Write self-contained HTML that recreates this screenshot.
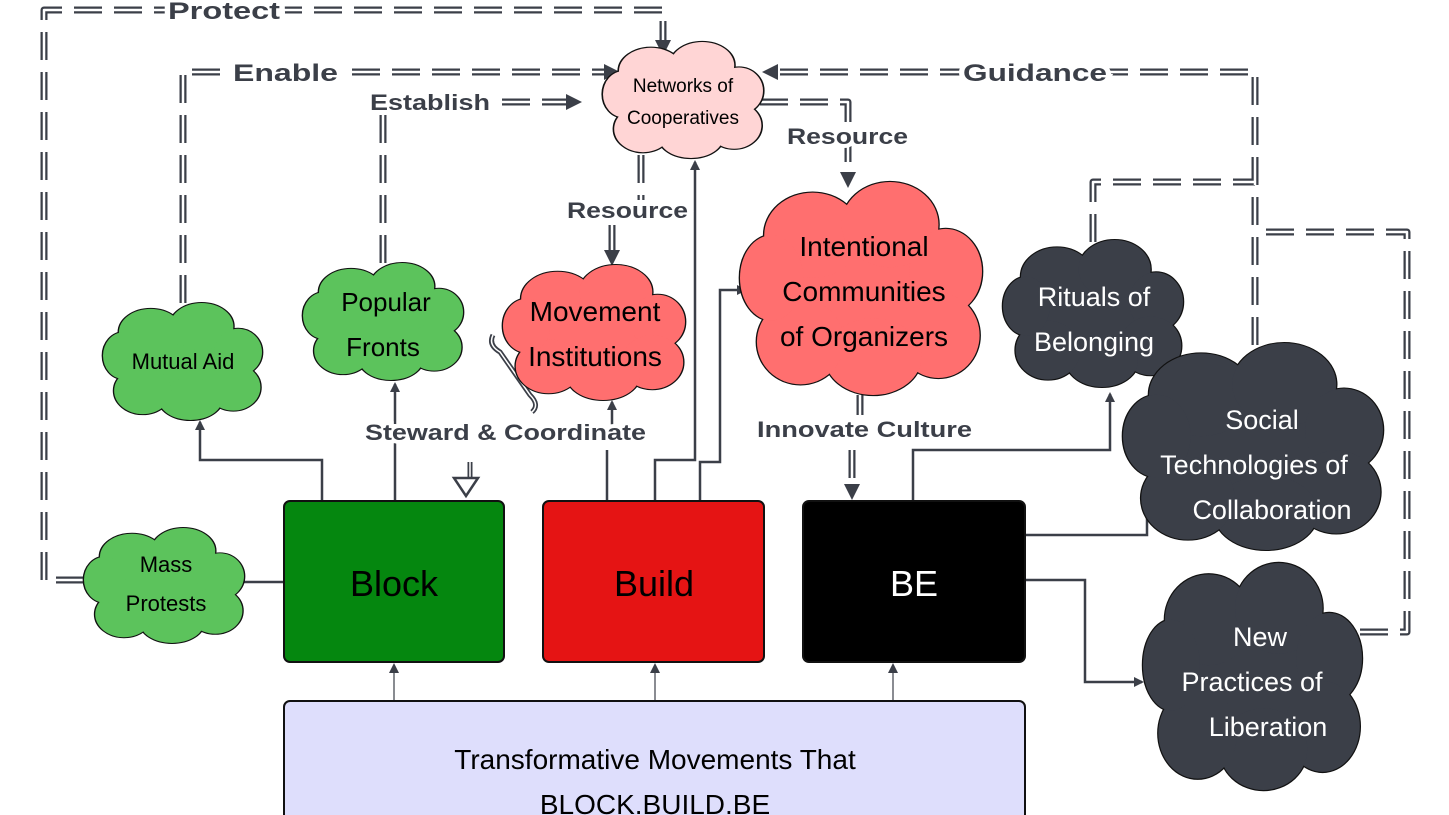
<!DOCTYPE html>
<html><head><meta charset="utf-8"><style>
html,body{margin:0;padding:0;background:#fff;width:1449px;height:815px;overflow:hidden}
svg{display:block;font-family:"Liberation Sans",sans-serif}
.lbl{font-weight:bold;font-size:24px;fill:#3b3f48;paint-order:stroke;stroke:#fff;stroke-width:8px}
</style></head><body>
<svg width="1449" height="815" viewBox="0 0 1449 815" xmlns="http://www.w3.org/2000/svg">
<defs>
<g id="cs">
<ellipse cx=".5" cy=".5" rx=".38" ry=".36"/><ellipse cx=".3" cy=".25" rx=".2" ry=".2"/><ellipse cx=".62" cy=".2" rx=".2" ry=".2"/><ellipse cx=".85" cy=".42" rx=".15" ry=".2"/><ellipse cx=".82" cy=".72" rx=".17" ry=".2"/><ellipse cx=".55" cy=".82" rx=".2" ry=".18"/><ellipse cx=".25" cy=".75" rx=".18" ry=".2"/><ellipse cx=".13" cy=".45" rx=".13" ry=".2"/>
</g>
<marker id="a" markerWidth="10" markerHeight="10" refX="8" refY="5" orient="auto" markerUnits="userSpaceOnUse"><path d="M0,0 L10,5 L0,10 z" fill="#3b3f48"/></marker>
</defs>

<g fill="none" stroke-linejoin="round">
<g stroke="#3b3f48" stroke-width="7" stroke-dasharray="28 12">
<path d="M84,580 H44 V10 H663 V40"/>
<path d="M183,303 V72 H612"/>
<path d="M383,263 V102 H575"/>
<path d="M641,155 V200 M612,225 V258"/>
<path d="M760,102 H848 V180"/>
<path d="M1255,345 V72 H768"/>
<path d="M1093,242 V182 H1255"/>
<path d="M1360,632 H1407 V232 H1255"/>
<path d="M860,395 V415 M852,450 V492"/>
</g>
<g stroke="#fff" stroke-width="2.5" stroke-dasharray="28 12">
<path d="M84,580 H44 V10 H663 V40"/>
<path d="M183,303 V72 H612"/>
<path d="M383,263 V102 H575"/>
<path d="M641,155 V200 M612,225 V258"/>
<path d="M760,102 H848 V180"/>
<path d="M1255,345 V72 H768"/>
<path d="M1093,242 V182 H1255"/>
<path d="M1360,632 H1407 V232 H1255"/>
<path d="M860,395 V415 M852,450 V492"/>
</g>
</g>
<g fill="#3b3f48">
<path d="M655,40 L671,40 L663,56z"/>
<path d="M604,64 L620,72 L604,80z"/>
<path d="M566,94 L582,102 L566,110z"/>
<path d="M604,250 L620,250 L612,266z"/>
<path d="M840,172 L856,172 L848,188z"/>
<path d="M778,64 L762,72 L778,80z"/>
<path d="M844,484 L860,484 L852,500z"/>
</g>

<g fill="none" stroke="#3b3f48" stroke-width="2.5" marker-end="url(#a)">
<path d="M322,501 V460 H200 V422"/>
<path d="M395,501 V384"/>
<path d="M607,501 V450 M612,440 V402"/>
<path d="M655,501 V460 H695 V162"/>
<path d="M700,501 V462 H720 V290 H745"/>
<path d="M913,501 V450 H1110 V394"/>
<path d="M1025,535 H1147 V496"/>
<path d="M1025,580 H1085 V682 H1142"/>
</g>
<path d="M244,582 H284" stroke="#3b3f48" stroke-width="2.5"/>
<g stroke="#3b3f48" stroke-width="1.2" fill="none" marker-end="url(#a)">
<path d="M394,701 V665"/><path d="M655,701 V665"/><path d="M893,701 V665"/>
</g>
<path d="M493,335 Q488,345 500,352 L530,395 Q540,405 532,412" fill="none" stroke="#3b3f48" stroke-width="5"/>
<path d="M493,335 Q488,345 500,352 L530,395 Q540,405 532,412" fill="none" stroke="#fff" stroke-width="1.5"/>
<path d="M470,462 V478" stroke="#3b3f48" stroke-width="5"/><path d="M470,462 V478" stroke="#fff" stroke-width="1.5"/>
<path d="M454,478 L478,478 L466,496z" fill="#fff" stroke="#3b3f48" stroke-width="2.5"/>

<g>
<g transform="translate(603,42) scale(160,116)"><use href="#cs" fill="#ffd5d5" stroke="#111" stroke-width=".02"/><use href="#cs" fill="#ffd5d5"/></g>
<g transform="translate(103,303) scale(159,117)"><use href="#cs" fill="#5cc35c" stroke="#111" stroke-width=".017"/><use href="#cs" fill="#5cc35c"/></g>
<g transform="translate(303,263) scale(160,117)"><use href="#cs" fill="#5cc35c" stroke="#111" stroke-width=".017"/><use href="#cs" fill="#5cc35c"/></g>
<g transform="translate(84,528) scale(160,115)"><use href="#cs" fill="#5cc35c" stroke="#111" stroke-width=".017"/><use href="#cs" fill="#5cc35c"/></g>
<g transform="translate(503,265) scale(182,135)"><use href="#cs" fill="#ff6f6f" stroke="#111" stroke-width=".015"/><use href="#cs" fill="#ff6f6f"/></g>
<g transform="translate(740,182) scale(242,213)"><use href="#cs" fill="#ff6f6f" stroke="#111" stroke-width=".011"/><use href="#cs" fill="#ff6f6f"/></g>
<g transform="translate(1003,240) scale(180,147)"><use href="#cs" fill="#3b3f48" stroke="#111" stroke-width=".014"/><use href="#cs" fill="#3b3f48"/></g>
<g transform="translate(1123,343) scale(260,207)"><use href="#cs" fill="#3b3f48" stroke="#111" stroke-width=".01"/><use href="#cs" fill="#3b3f48"/></g>
<g transform="translate(1143,563) scale(219,227)"><use href="#cs" fill="#3b3f48" stroke="#111" stroke-width=".011"/><use href="#cs" fill="#3b3f48"/></g>
</g>

<rect x="284" y="501" width="220" height="161" rx="6" fill="#05870f" stroke="#111" stroke-width="2"/>
<rect x="543" y="501" width="221" height="161" rx="6" fill="#e51414" stroke="#111" stroke-width="2"/>
<rect x="803" y="501" width="222" height="161" rx="6" fill="#000" stroke="#111" stroke-width="2"/>
<rect x="284" y="701" width="741" height="130" rx="6" fill="#dedefc" stroke="#111" stroke-width="2"/>

<g text-anchor="middle" font-size="36">
<text x="394" y="596">Block</text>
<text x="654" y="596">Build</text>
<text x="914" y="596" fill="#fff">BE</text>
</g>
<g text-anchor="middle" font-size="28">
<text x="655" y="769">Transformative Movements That</text>
<text x="655" y="814">BLOCK.BUILD.BE</text>
</g>

<g text-anchor="middle">
<text font-size="19" x="683" y="92">Networks of</text><text font-size="19" x="683" y="124">Cooperatives</text>
<text font-size="22" x="183" y="369">Mutual Aid</text>
<text font-size="26" x="386" y="311">Popular</text><text font-size="26" x="383" y="356">Fronts</text>
<text font-size="22" x="166" y="572">Mass</text><text font-size="22" x="166" y="611">Protests</text>
<text font-size="28" x="595" y="321">Movement</text><text font-size="28" x="595" y="366">Institutions</text>
<text font-size="28" x="864" y="256">Intentional</text><text font-size="28" x="864" y="301">Communities</text><text font-size="28" x="864" y="346">of Organizers</text>
<g fill="#fff">
<text font-size="27" x="1094" y="306">Rituals of</text><text font-size="27" x="1094" y="351">Belonging</text>
<text font-size="27" x="1262" y="429">Social</text><text font-size="27" x="1254" y="474">Technologies of</text><text font-size="27" x="1272" y="519">Collaboration</text>
<text font-size="27" x="1260" y="646">New</text><text font-size="27" x="1252" y="691">Practices of</text><text font-size="27" x="1268" y="736">Liberation</text>
</g>
</g>

<text class="lbl" x="168" y="19" textLength="112" lengthAdjust="spacingAndGlyphs">Protect</text>
<text class="lbl" x="233" y="81" textLength="105" lengthAdjust="spacingAndGlyphs">Enable</text>
<text class="lbl" x="370" y="110" style="font-size:22px" textLength="120" lengthAdjust="spacingAndGlyphs">Establish</text>
<text class="lbl" x="567" y="218" style="font-size:22px" textLength="121" lengthAdjust="spacingAndGlyphs">Resource</text>
<text class="lbl" x="787" y="144" style="font-size:22px" textLength="121" lengthAdjust="spacingAndGlyphs">Resource</text>
<text class="lbl" x="963" y="81" textLength="144" lengthAdjust="spacingAndGlyphs">Guidance</text>
<text class="lbl" x="365" y="440" style="font-size:22px" textLength="281" lengthAdjust="spacingAndGlyphs">Steward &amp; Coordinate</text>
<text class="lbl" x="757" y="437" style="font-size:22px" textLength="215" lengthAdjust="spacingAndGlyphs">Innovate Culture</text>
</svg>
</body></html>
